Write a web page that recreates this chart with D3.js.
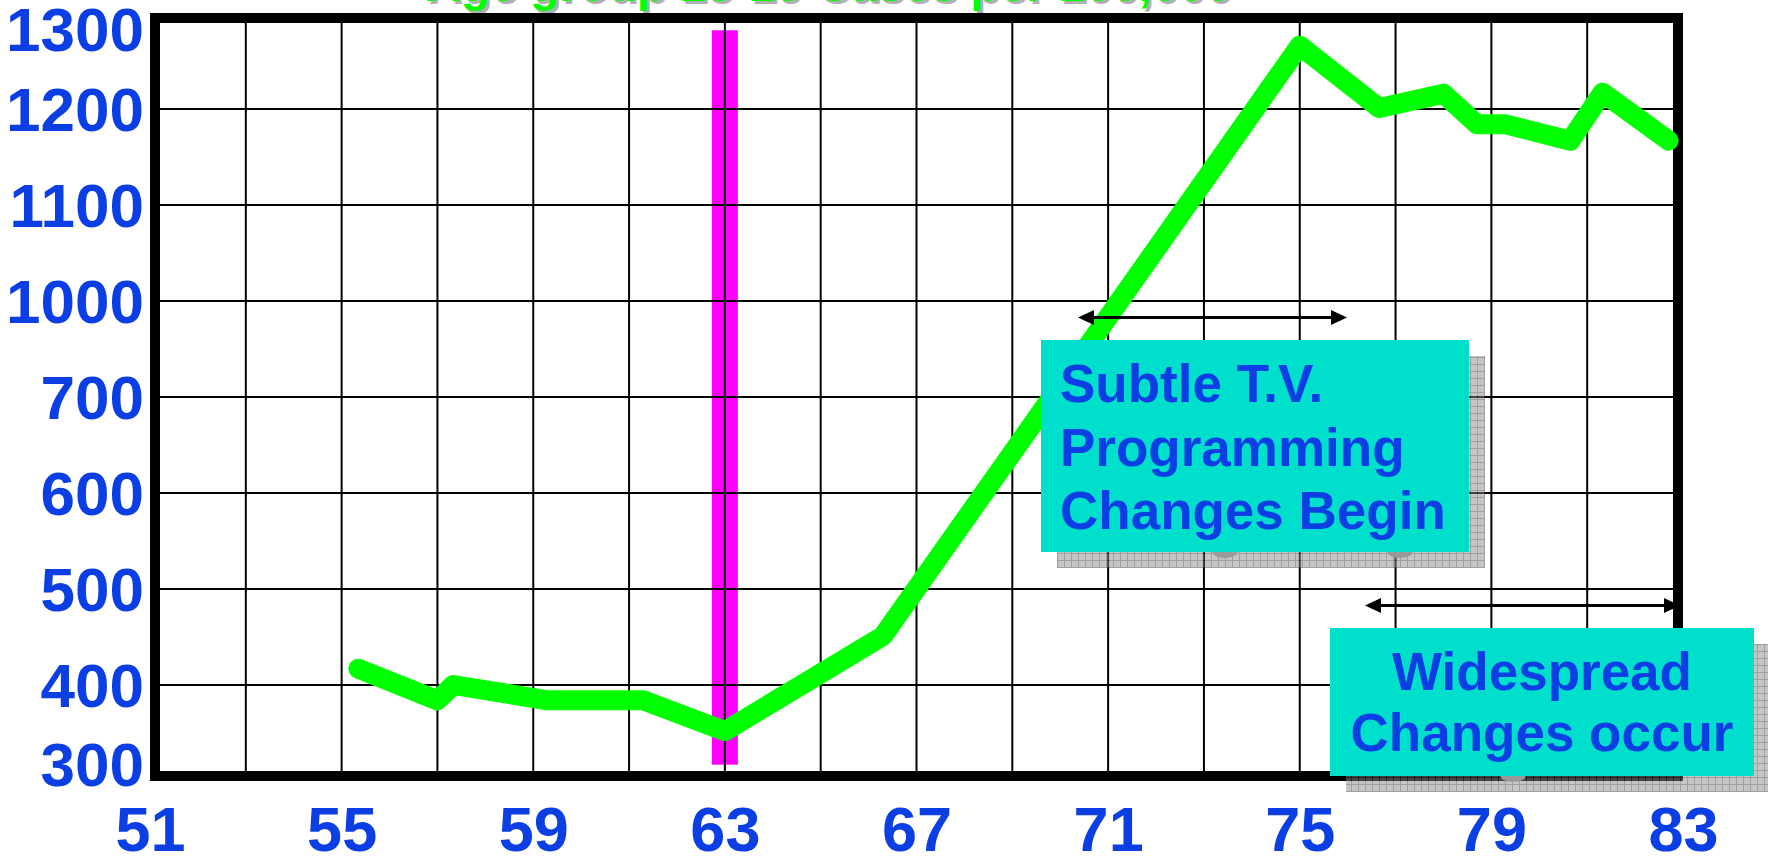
<!DOCTYPE html>
<html>
<head>
<meta charset="utf-8">
<script src="https://cdn.jsdelivr.net/npm/d3@7"></script>
<style>
  html, body { margin: 0; padding: 0; background: #fff; }
  svg { display: block; }
</style>
</head>
<body>
<svg id="chart" width="1768" height="865"></svg>
<script>
// ---------- data ----------
const years = [55.35, 57.0, 57.33, 59.3, 61.3, 63.0, 66.3, 75.0, 76.66, 78.0, 78.7, 79.3, 80.65, 81.32, 82.7];
const cases = [417, 384, 400, 384, 384, 352, 451, 1266, 1201, 1216, 1184, 1184, 1167, 1217, 1167];
const yTickLabels = [1300, 1200, 1100, 1000, 700, 600, 500, 400, 300];
const xTickLabels = [51, 55, 59, 63, 67, 71, 75, 79, 83];
const gridYears = [53, 55, 57, 59, 61, 63, 65, 67, 69, 71, 73, 75, 77, 79, 81];
const markerYear = 63;
const markerRange = [1282, 317];
const titleText = "Age group 15-19 Cases per 100,000";
const note1Lines = ["Subtle T.V.", "Programming", "Changes Begin"];
const note2Lines = ["Widespread", "Changes occur"];

// ---------- layout ----------
const W = 1768, H = 865;
const plotL = 150, plotR = 1683, plotT = 13, plotB = 781;
const FONT = "'Liberation Sans', Arial, Helvetica, sans-serif";
const BLUE = "#0b3fe4";
const CYAN = "#00dfcc";

const svg = d3.select("#chart");
svg.append("rect").attr("width", W).attr("height", H).attr("fill", "#fff");

const x = d3.scaleLinear().domain([51, 83]).range([plotL, plotR]);
const yDomain = yTickLabels.slice().sort((a, b) => a - b);
const step = (plotB - plotT) / (yDomain.length - 1);
const y = d3.scaleLinear().domain(yDomain).range(yDomain.map((d, i) => plotB - i * step));

const defs = svg.append("defs");
const pat = defs.append("pattern").attr("id", "shadowPat")
  .attr("patternUnits", "userSpaceOnUse").attr("width", 7).attr("height", 7);
pat.append("rect").attr("width", 7).attr("height", 7).attr("fill", "#8a8a8a");
pat.append("path").attr("d", "M0 0.5H7M0.5 0V7").attr("stroke", "#424242").attr("stroke-width", 1);

// ---------- title (cut off at top) ----------
svg.append("text").attr("x", 429).attr("y", 4)
  .attr("font-family", FONT).attr("font-weight", "bold").attr("font-size", 48)
  .attr("fill", "#b0b0b0").text(titleText);
svg.append("text").attr("x", 426).attr("y", 0.5)
  .attr("font-family", FONT).attr("font-weight", "bold").attr("font-size", 48)
  .attr("fill", "#00ff00").text(titleText);

// ---------- magenta marker ----------
svg.append("rect")
  .attr("x", x(markerYear) - 13).attr("width", 26)
  .attr("y", y(markerRange[0])).attr("height", y(markerRange[1]) - y(markerRange[0]))
  .attr("fill", "#ff00ff");

// ---------- grid ----------
const grid = svg.append("g").attr("stroke", "#000").attr("stroke-width", 2);
grid.selectAll("line.v").data(gridYears).join("line").attr("class", "v")
  .attr("x1", d => x(d)).attr("x2", d => x(d)).attr("y1", plotT).attr("y2", plotB);
grid.selectAll("line.h").data(yDomain.slice(1, -1)).join("line").attr("class", "h")
  .attr("x1", plotL).attr("x2", plotR).attr("y1", d => y(d)).attr("y2", d => y(d));

// frame (stroke drawn inside)
svg.append("rect").attr("x", plotL + 5).attr("y", plotT + 5)
  .attr("width", plotR - plotL - 10).attr("height", plotB - plotT - 10)
  .attr("fill", "none").attr("stroke", "#000").attr("stroke-width", 10);

// ---------- axes ----------
const yAxis = svg.append("g").attr("transform", `translate(${plotL},0)`)
  .call(d3.axisLeft(y).tickValues(yTickLabels).tickSize(0).tickFormat(d3.format("d")));
yAxis.select(".domain").remove();
yAxis.attr("font-family", FONT).attr("font-size", 62).attr("font-weight", "bold");
yAxis.selectAll("text").attr("fill", BLUE).attr("dy", null)
  .attr("x", -6)
  .attr("y", d => Math.max(50, Math.min(785, y(d) + 21)) - y(d));

const xAxis = svg.append("g").attr("transform", "translate(0,0)")
  .call(d3.axisBottom(x).tickValues(xTickLabels).tickSize(0).tickFormat(d3.format("d")));
xAxis.select(".domain").remove();
xAxis.attr("font-family", FONT).attr("font-size", 63).attr("font-weight", "bold");
xAxis.selectAll("text").attr("fill", BLUE).attr("dy", null).attr("y", 851);

// ---------- data line ----------
const pts = years.map((yr, i) => [yr, cases[i]]);
svg.append("path").datum(pts)
  .attr("d", d3.line().x(d => x(d[0])).y(d => y(d[1])))
  .attr("fill", "none").attr("stroke", "#00ff00").attr("stroke-width", 20)
  .attr("stroke-linejoin", "round").attr("stroke-linecap", "round");

// ---------- arrows ----------
function arrow(x1, x2, yy) {
  const g = svg.append("g");
  g.append("line").attr("x1", x1 + 8).attr("x2", x2 - 8).attr("y1", yy).attr("y2", yy)
    .attr("stroke", "#000").attr("stroke-width", 3);
  g.append("path").attr("d", `M${x1},${yy}L${x1 + 16},${yy - 7.5}L${x1 + 16},${yy + 7.5}Z`).attr("fill", "#000");
  g.append("path").attr("d", `M${x2},${yy}L${x2 - 16},${yy - 7.5}L${x2 - 16},${yy + 7.5}Z`).attr("fill", "#000");
}
arrow(1078, 1347, 317.5);
arrow(1365, 1680, 605.5);

// ---------- annotation boxes ----------
function note(bx, by, bw, bh, lines, opts) {
  svg.append("rect").attr("x", bx + 16).attr("y", by + 16).attr("width", bw).attr("height", bh)
    .attr("fill", "url(#shadowPat)").attr("opacity", 0.5);
  opts.blobs.forEach(cx => {
    svg.append("ellipse").attr("cx", cx).attr("cy", by + bh).attr("rx", 12.5).attr("ry", 6)
      .attr("fill", "#9a9a9a");
  });
  svg.append("rect").attr("x", bx).attr("y", by).attr("width", bw).attr("height", bh).attr("fill", CYAN);
  const t = svg.append("text").attr("font-family", FONT).attr("font-weight", "bold")
    .attr("font-size", 53).attr("fill", BLUE)
    .attr("text-anchor", opts.anchor);
  lines.forEach((s, i) => {
    t.append("tspan").attr("x", opts.tx).attr("y", opts.ty + i * opts.lh).text(s);
  });
}
note(1041, 340, 428, 212, note1Lines, { anchor: "start", tx: 1060, ty: 402, lh: 63.5, blobs: [1225, 1400] });
note(1330, 628, 424, 148, note2Lines, { anchor: "middle", tx: 1542, ty: 690, lh: 60.5, blobs: [1513] });
</script>
</body>
</html>
